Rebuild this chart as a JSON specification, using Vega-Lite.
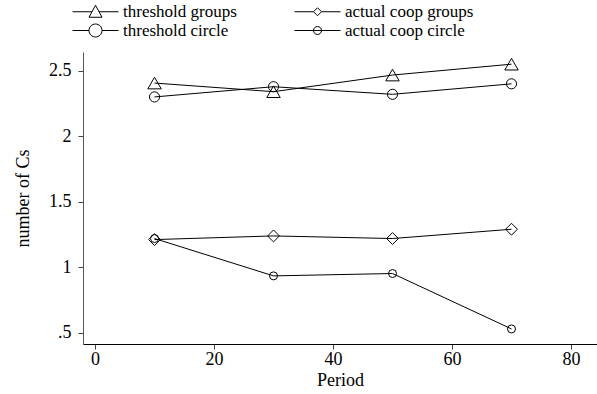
{
  "$schema": "https://vega.github.io/schema/vega-lite/v6.json",
  "width": 514,
  "height": 292,
  "autosize": "none",
  "padding": {"left": 83, "top": 52, "right": 0, "bottom": 50},
  "background": "white",
  "config": {
    "view": {"stroke": null},
    "font": "Liberation Serif",
    "axis": {"grid": false, "labelFont": "Liberation Serif", "titleFont": "Liberation Serif", "labelFontSize": 18, "titleFontSize": 18, "titleFontWeight": "normal", "labelColor": "black", "titleColor": "black", "tickColor": "#444", "tickSize": 5},
    "legend": {"labelFont": "Liberation Serif", "labelFontSize": 17, "labelColor": "black"}
  },
  "data": {
    "values": [
      {"period": 10, "series": "threshold groups", "value": 2.406},
      {"period": 30, "series": "threshold groups", "value": 2.34},
      {"period": 50, "series": "threshold groups", "value": 2.467},
      {"period": 70, "series": "threshold groups", "value": 2.55},
      {"period": 10, "series": "threshold circle", "value": 2.30},
      {"period": 30, "series": "threshold circle", "value": 2.378},
      {"period": 50, "series": "threshold circle", "value": 2.32},
      {"period": 70, "series": "threshold circle", "value": 2.40},
      {"period": 10, "series": "actual coop groups", "value": 1.211},
      {"period": 30, "series": "actual coop groups", "value": 1.239},
      {"period": 50, "series": "actual coop groups", "value": 1.219},
      {"period": 70, "series": "actual coop groups", "value": 1.29},
      {"period": 10, "series": "actual coop circle", "value": 1.219},
      {"period": 30, "series": "actual coop circle", "value": 0.934},
      {"period": 50, "series": "actual coop circle", "value": 0.952},
      {"period": 70, "series": "actual coop circle", "value": 0.529}
    ]
  },
  "encoding": {
    "x": {"field": "period", "type": "quantitative",
      "scale": {"domain": [-2.02, 84.37], "nice": false, "zero": false},
      "axis": {"values": [0, 20, 40, 60, 80], "title": "Period", "domainColor": "black", "labelPadding": 1, "titlePadding": 3}},
    "y": {"field": "value", "type": "quantitative",
      "scale": {"domain": [0.414, 2.643], "nice": false, "zero": false},
      "axis": {"values": [0.5, 1, 1.5, 2, 2.5], "title": "number of Cs", "domainColor": "#555", "labelPadding": 7, "titlePadding": 16,
        "labelExpr": "datum.value == 0.5 ? '.5' : format(datum.value, '~g')"}}
  },
  "resolve": {"scale": {"shape": "independent"}, "legend": {"shape": "independent"}},
  "layer": [
    {
      "mark": {"type": "line", "color": "black", "strokeWidth": 1},
      "encoding": {"detail": {"field": "series"}}
    },
    {
      "mark": {"type": "point", "filled": false, "color": "black", "strokeWidth": 1, "opacity": 1},
      "encoding": {
        "shape": {"field": "series", "type": "nominal", "legend": null,
          "scale": {"domain": ["threshold groups", "actual coop groups", "threshold circle", "actual coop circle"],
                    "range": ["triangle-up", "diamond", "circle", "circle"]}},
        "size": {"field": "series", "type": "nominal", "legend": null,
          "scale": {"domain": ["threshold groups", "actual coop groups", "threshold circle", "actual coop circle"],
                    "range": [180, 64, 180, 70]}}
      }
    },
    {
      "transform": [{"filter": "datum.value > 100"}],
      "mark": {"type": "point", "filled": false, "color": "black", "strokeWidth": 1, "opacity": 1},
      "encoding": {
        "shape": {"field": "series", "type": "nominal",
          "scale": {"domain": ["threshold groups", "actual coop groups", "threshold circle", "actual coop circle"],
                    "range": [
                      "M-4.6,0H-0.7M0.7,0H4.6M-1.3,1.1L0,-1.3L1.3,1.1Z",
                      "M-4.6,0H-0.8M0.8,0H4.6M-0.8,0L0,-0.8L0.8,0L0,0.8Z",
                      "M-4.6,0H-1.3M1.3,0H4.6M-1.3,0A1.3,1.3,0,1,0,1.3,0A1.3,1.3,0,1,0,-1.3,0",
                      "M-4.6,0H4.6M-0.8,0A0.8,0.8,0,1,0,0.8,0A0.8,0.8,0,1,0,-0.8,0"
                    ]},
          "legend": {
            "orient": "none", "legendX": -14, "legendY": -49, "title": null,
            "direction": "horizontal", "columns": 2, "columnPadding": 54, "rowPadding": 1,
            "symbolSize": 100, "symbolOffset": 18, "labelOffset": 19, "symbolStrokeColor": "black", "symbolStrokeWidth": 1, "symbolOpacity": 1
          }}
      }
    }
  ]
}
